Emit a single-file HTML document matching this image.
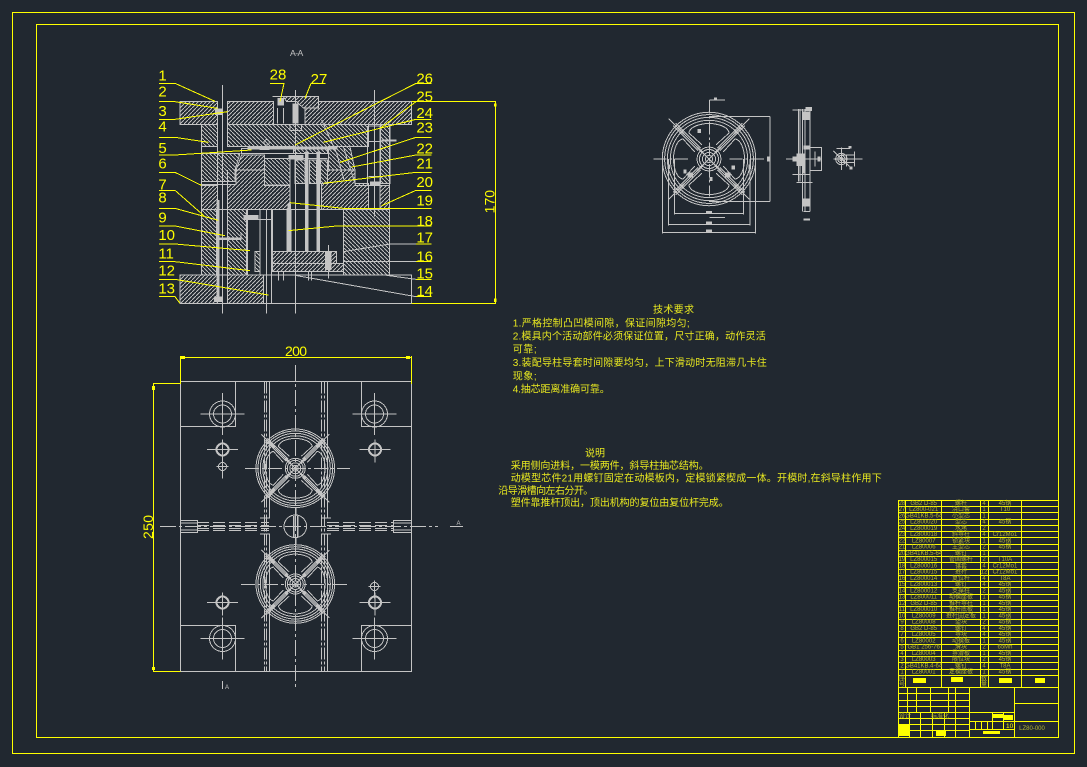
<!DOCTYPE html>
<html><head><meta charset="utf-8"><style>
html,body{margin:0;padding:0;background:#212830}
svg{display:block;shape-rendering:crispEdges}
.w *{vector-effect:non-scaling-stroke}
.cn{font-family:"Liberation Sans","Noto Sans CJK SC",sans-serif}
</style></head><body>
<svg width="1087" height="767" viewBox="0 0 1087 767" xmlns="http://www.w3.org/2000/svg" class="cn">
<defs>
<pattern id="h1" width="12" height="12" patternUnits="userSpaceOnUse"><path d="M-3,15 L15,-3" stroke="#bcbcbc" stroke-width="3" fill="none" shape-rendering="crispEdges"/></pattern>
<pattern id="h2" width="12" height="12" patternUnits="userSpaceOnUse"><path d="M-3,-3 L15,15" stroke="#bcbcbc" stroke-width="3" fill="none" shape-rendering="crispEdges"/></pattern>
<g id="wheel" class="w" fill="none" stroke="#c4c4c4" stroke-width="1">
<circle r="39.3"/><circle r="37.3"/><circle r="35"/><circle r="32.5"/>
<circle r="10"/><circle r="8"/><circle r="5.5"/><circle r="3"/>
<path d="M-34,-34L34,34M-34,34L34,-34"/>
<path d="M-7,-9L-28,-30M-9,-7L-30,-28M7,-9L28,-30M9,-7L30,-28M-7,9L-28,30M-9,7L-30,28M7,9L28,30M9,7L30,28"/>
<path d="M-6,-12L-17,-22Q-15,-29 0,-30Q15,-29 17,-22L6,-12"/>
<path d="M-6,12L-17,22Q-15,29 0,30Q15,29 17,22L6,12"/>
<path d="M-12,-6L-22,-17Q-29,-15 -30,0Q-29,15 -22,17L-12,6"/>
<path d="M12,-6L22,-17Q29,-15 30,0Q29,15 22,17L12,6"/>
<path d="M-21,-21L-26,-26M21,-21L26,-26M-21,21L-26,26M21,21L26,26M-10,-10L-5,-5M10,-10L5,-5M-10,10L-5,5M10,10L5,5" stroke-width="2"/>
</g>
<g id="bolt" fill="none" stroke="#c4c4c4" stroke-width="1"><circle r="13"/><circle r="9"/><path d="M-22,0H22M0,-21V21"/></g>
<g id="pin" fill="none" stroke="#c4c4c4"><circle r="6" stroke-width="2"/><path d="M-15.5,0H15.5M0,-10V13" stroke-width="1"/></g>
<g id="tiny" fill="none" stroke="#c4c4c4" stroke-width="1"><circle r="4"/><path d="M-6,0H6M0,-6V12"/></g>
</defs>
<rect width="1087" height="767" fill="#212830"/>

<!-- frames -->
<g fill="none" stroke="#ffff00" stroke-width="1">
<rect x="12.5" y="12.5" width="1062" height="741"/>
<rect x="36.5" y="24.5" width="1022" height="713"/>
</g>

<!-- section view (zoom coordinates) -->
<g transform="translate(140,40) scale(.33333)">
<g stroke="#c4c4c4" stroke-width="3">
<!-- hatched -->
<g fill="url(#h1)">
<path d="M120,185H232V253H120Z"/><path d="M262,185H400V253H262Z"/><path d="M495,204H535V185H815V253H495Z"/>
<path d="M397,170H535V204H490L470,185H440L430,170Z"/>
<path d="M185,436H232V508H185Z"/>
<path d="M288,390H373V436H450V508H262V433H288Z"/>
<path d="M305,345H373V390H288Z"/>
<path d="M562,390H645V430H685V508H545V430H562Z"/>
<path d="M720,436H748V508H720Z"/>
<path d="M397,635H590V670H397Z"/><path d="M397,670H610V695H397Z"/>
<path d="M120,705H232V790H120Z"/><path d="M262,705H370V790H262Z"/>
</g>
<g fill="url(#h2)">
<path d="M185,253H232V320H185Z"/>
<path d="M185,340H300L285,390V425H185Z"/>
<path d="M262,253H685V320H565V340H460V320H262Z"/>
<path d="M565,320H630L645,390H565Z"/>
<path d="M722,253H750V430H722Z"/>
<path d="M373,355H450V435H373Z"/><path d="M465,360H495V430H465Z"/><path d="M508,360H530V430H508Z"/><path d="M542,360H562V430H542Z"/>
<path d="M185,508H230V705H185Z"/><path d="M262,508H320V705H262Z"/>
<path d="M610,508H748V705H610Z"/>
<path d="M345,635H360V695H345Z"/>
</g>
<!-- outlines -->
<g fill="none">
<path d="M185,253V705M748,253V705M185,433H288M645,436H748M185,508H748"/>
<path d="M120,705H815V790H120V705"/>
<path d="M232,185V790M262,185V320M262,390V790"/>
<path d="M322,508V705M360,508V705M395,508V790M370,705V790M323,538H395"/>
<path d="M397,508V635M610,508V705M590,635V670"/>
<path d="M682,258V430M720,258V500M685,258H720M685,305H720M685,410H720"/>
<path d="M412,204V250M430,204V250M450,253H485V272H450Z"/>
<path d="M305,325H562V340H305Z M373,355H562"/>
<path d="M300,340L285,390M288,390H373M562,390H645M610,320L645,430"/>
<path d="M610,665H748M397,670H610M397,695H610"/>
<path d="M415,695V722M430,695V722M505,695V722M515,695V722"/>
<path d="M235,598H303V578"/>
<path d="M545,240L590,340L612,420"/>
<circle cx="380" cy="307" r="8"/>
</g>
<!-- center lines -->
<path d="M247,135V820M703,150V530M466,150V820M380,510V820M565,615V715" fill="none"/>
</g>
<!-- filled bits -->
<g fill="#c4c4c4">
<rect x="322" y="320" width="270" height="8"/>
<rect x="445" y="345" width="45" height="14"/>
<rect x="458" y="190" width="18" height="60"/>
<rect x="440" y="510" width="15" height="125"/>
<rect x="225" y="205" width="22" height="20"/>
<rect x="229" y="480" width="9" height="290"/>
<rect x="310" y="525" width="45" height="15"/>
<rect x="238" y="592" width="65" height="6"/>
<rect x="495" y="335" width="10" height="300"/>
<rect x="530" y="335" width="10" height="300"/>
<rect x="555" y="635" width="20" height="55"/>
<rect x="222" y="770" width="26" height="16"/>
<rect x="412" y="174" width="20" height="22"/>
<rect x="690" y="425" width="28" height="12"/>
<rect x="725" y="298" width="45" height="7"/>
<rect x="358" y="320" width="30" height="10"/>
<rect x="443" y="490" width="10" height="18"/>
</g>
<!-- leaders yellow -->
<path fill="none" stroke="#ffff00" stroke-width="3" d="
M57,130H105L225,184 M57,185H105L232,205 M57,238H105L262,215 M57,292H105L205,307
M57,345H105L335,330 M57,397H105L184,436 M57,451H105L195,530 M57,505H105L235,541
M57,558H105L255,587 M57,612H105L330,632 M57,665H105L330,692 M57,718H105L385,765
M57,770H105L120,790
M875,130H828L465,315 M875,185H828L720,265 M875,238H828L550,307 M875,292H828L600,367
M875,345H828L635,381 M875,397H828L550,430 M875,451H828L725,497 M875,505H610L450,488
M875,558H590L445,572 M828,612H875 M828,665H875 M828,718H875 M828,770H875
M390,130H432L420,185 M557,130H513L495,175
M815,184H1068 M815,790H1068 M1066,184V790"/>
<path fill="none" stroke="#c4c4c4" stroke-width="3" d="M828,612H750L610,635 M828,665H610 M828,718L740,706 M828,770L465,706"/>
<rect x="1062" y="190" width="8" height="10" fill="#ffff00"/><rect x="1062" y="776" width="8" height="10" fill="#ffff00"/>
<g fill="#ffff00" font-size="45" text-anchor="start">
<text x="55" y="122">1</text><text x="55" y="170">2</text><text x="55" y="228">3</text><text x="55" y="275">4</text><text x="55" y="339">5</text><text x="55" y="385">6</text><text x="55" y="448">7</text><text x="55" y="487">8</text><text x="55" y="548">9</text><text x="55" y="600">10</text><text x="55" y="655">11</text><text x="55" y="707">12</text><text x="55" y="760">13</text>
<text x="829" y="130">26</text><text x="829" y="184">25</text><text x="829" y="234">24</text><text x="829" y="277">23</text><text x="829" y="340">22</text><text x="829" y="385">21</text><text x="829" y="441">20</text><text x="829" y="497">19</text><text x="829" y="558">18</text><text x="829" y="608">17</text><text x="829" y="665">16</text><text x="829" y="715">15</text><text x="829" y="768">14</text>
<text x="389" y="118">28</text><text x="512" y="132">27</text>
<text transform="translate(1064,520) rotate(-90)" font-size="42">170</text>
</g>
<text x="450" y="48" font-size="26" fill="#c4c4c4" textLength="40">A-A</text>
</g>

<!-- plan view -->
<g fill="none" stroke="#c4c4c4" stroke-width="1">
<rect x="180.5" y="381.5" width="231" height="290"/>
<path d="M235.5,381.5V426.5H180.5M361.5,381.5V426.5H411.5M180.5,625.5H235.5V671.5M411.5,625.5H361.5V671.5"/>
<path d="M269.5,381.5V518M269.5,534V671.5M327.5,381.5V518M327.5,534V671.5"/>
<path d="M264.5,381.5V671.5M266.5,381.5V671.5M321.5,381.5V671.5M324.5,381.5V671.5" stroke-dasharray="12,2,3,2"/>
<path d="M295.5,365V688M160,526.5H438" stroke-dasharray="16,3,3,3"/>
<path d="M180.5,520.5H197.5V532.5H180.5M411.5,520.5H393.5V532.5H411.5"/>
<path d="M197,522.5H269M197,525.5H269M197,528.5H269M197,530.5H269M327,522.5H393M327,525.5H393M327,528.5H393M327,530.5H393" stroke-dasharray="12,4"/>
<path d="M180,523H197M180,530H197M394,523H411M394,530H411"/>
<path d="M260,518H270M260,534H270M322,518H331M322,534H331"/>
<path d="M245,468.5H350M241,584.5H349" stroke-dasharray="14,3,3,3"/>
<path d="M450,526.5H463M222.5,681V689"/>
</g>
<g>
<use href="#bolt" x="222.5" y="414"/><use href="#bolt" x="374.5" y="414"/><use href="#bolt" x="222.5" y="638.5"/><use href="#bolt" x="374.5" y="638.5"/>
<use href="#pin" x="222.5" y="449.5"/><use href="#pin" x="375" y="449.5"/><use href="#pin" x="222.5" y="602.5"/><use href="#pin" x="375" y="602.5"/>
<use href="#tiny" x="222.5" y="466.5"/><use href="#tiny" x="374.5" y="586.5"/>
<use href="#wheel" x="295.3" y="468.3"/><use href="#wheel" x="295.3" y="584"/>
</g>
<g fill="none" stroke="#c4c4c4">
<circle cx="295.3" cy="526.3" r="11.3"/>
<path d="M293.5,516V537M297.5,516V537M295.5,508V516M295.5,537V545" stroke-width="1.5"/>
</g>
<!-- dims 200 / 250 -->
<g fill="none" stroke="#ffff00" stroke-width="1">
<path d="M180.5,356V384M411.5,356V384M180.5,357.5H411.5"/>
<path d="M153.5,383V671M153,383.5H180.5M153,671.5H180.5"/>
</g>
<g fill="#ffff00">
<rect x="181" y="356" width="4" height="3"/><rect x="406" y="356" width="4" height="3"/><rect x="152" y="386" width="3" height="4"/><rect x="152" y="667" width="3" height="3"/>
<text x="285" y="356" font-size="14" textLength="22">200</text>
<text transform="translate(153,539) rotate(-90)" font-size="14" textLength="24">250</text>
</g>
<g fill="#c4c4c4" font-size="6"><text x="456.5" y="525">A</text><text x="225" y="689">A</text></g>

<!-- part view -->
<use href="#wheel" transform="translate(709,159) scale(1.19)"/>
<g transform="translate(640,85) scale(.33333)" fill="none" stroke="#c4c4c4" stroke-width="3">
<path d="M40,222H145M268,222H375M208,45V335" stroke-dasharray="40,8,8,8"/>
<path d="M208,45H255M207,95H390M207,349H390M390,95V349M208,397H255"/>
<path d="M103,222V388M310,222V388M103,385H310M85,222V422M330,222V422M85,419H330M67,222V445M347,222V445M67,442H347"/>
<path d="M475,72V290M480,72V290M487,72V380M495,72V380M510,72V380M457,75H515M457,268H510M470,292H518M490,380H510"/>
<path d="M438,222H545M510,187H545V257H510M525,200V245"/>
<circle cx="604" cy="222" r="17"/><circle cx="604" cy="222" r="11"/><circle cx="604" cy="222" r="5"/>
<path d="M580,222H668M605,188V255M620,212V245M643,200V245M590,190H630M580,198L635,250M605,210H645M605,232H645"/>
<g fill="#c4c4c4" stroke="none">
<rect x="487" y="80" width="23" height="25"/><rect x="487" y="340" width="23" height="25"/><rect x="470" y="205" width="25" height="38"/><rect x="497" y="66" width="19" height="12"/>
<rect x="487" y="240" width="8" height="25"/><rect x="490" y="182" width="20" height="12"/><rect x="458" y="215" width="12" height="15"/><rect x="533" y="215" width="8" height="15"/>
<rect x="490" y="400" width="20" height="7"/><rect x="198" y="378" width="18" height="8"/><rect x="198" y="434" width="18" height="8"/><rect x="198" y="410" width="18" height="8"/><rect x="381" y="214" width="7" height="16"/><rect x="222" y="37" width="9" height="9"/>
<rect x="82" y="238" width="8" height="14"/><rect x="325" y="238" width="8" height="14"/><rect x="143" y="262" width="16" height="16"/><rect x="255" y="262" width="16" height="16"/>
<rect x="173" y="132" width="10" height="12"/><rect x="275" y="242" width="10" height="12"/><rect x="130" y="254" width="10" height="12"/><rect x="208" y="276" width="10" height="12"/>
<rect x="625" y="183" width="10" height="8"/><rect x="628" y="245" width="9" height="9"/>
</g>
</g>

<!-- notes -->
<g fill="#e8e820" font-size="10">
<text x="653" y="313" textLength="41">技术要求</text>
<text x="512.7" y="326.5" textLength="177">1.严格控制凸凹模间隙，保证间隙均匀;</text>
<text x="512.7" y="339.5" textLength="253">2.模具内个活动部件必须保证位置，尺寸正确，动作灵活</text>
<text x="512.7" y="352.5" textLength="24">可靠;</text>
<text x="512.7" y="366" textLength="254">3.装配导柱导套时间隙要均匀，上下滑动时无阻滞几卡住</text>
<text x="512.7" y="379.5" textLength="24">现象;</text>
<text x="512.7" y="392.5" textLength="97">4.抽芯距离准确可靠。</text>
<text x="585" y="456.5" textLength="20">说明</text>
<text x="510.7" y="469" textLength="198">采用侧向进料，一模两件，斜导柱抽芯结构。</text>
<text x="510.7" y="481.5" textLength="371">动模型芯件21用螺钉固定在动模板内，定模锁紧楔成一体。开模时,在斜导柱作用下</text>
<text x="498.3" y="494" textLength="95">沿导滑槽向左右分开。</text>
<text x="510.7" y="506" textLength="218">塑件靠推杆顶出，顶出机构的复位由复位杆完成。</text>
</g>

<!-- parts table -->
<g fill="none" stroke="#ffff00" stroke-width="1">
<path d="M898.5,500.5H1058 M898.5,506.5H1058 M898.5,512.5H1058 M898.5,519.5H1058 M898.5,525.5H1058 M898.5,531.5H1058 M898.5,537.5H1058 M898.5,544.5H1058 M898.5,550.5H1058 M898.5,556.5H1058 M898.5,562.5H1058 M898.5,569.5H1058 M898.5,575.5H1058 M898.5,581.5H1058 M898.5,587.5H1058 M898.5,594.5H1058 M898.5,600.5H1058 M898.5,606.5H1058 M898.5,612.5H1058 M898.5,619.5H1058 M898.5,625.5H1058 M898.5,631.5H1058 M898.5,637.5H1058 M898.5,644.5H1058 M898.5,650.5H1058 M898.5,656.5H1058 M898.5,662.5H1058 M898.5,669.5H1058 M898.5,675.5H1058 M898.5,687.5H1058"/>
<path d="M898.5,500V737.5M905.5,500V687M941.5,500V687M980.5,500V687M988.5,500V687M1021.5,500V687M1058.5,500V737.5"/>
<path d="M907.5,687V712M916.5,687V712M930.5,687V712M948.5,687V712M955.5,687V712M969.5,687V737"/>
<path d="M898.5,693.5H969M898.5,700.5H969M898.5,706.5H969M898.5,712.5H969M898.5,718.5H969M898.5,724.5H969M898.5,730.5H969"/>
<path d="M909.5,712V737M920.5,712V737M932.5,712V737M944.5,712V737M955.5,712V737"/>
<path d="M1014.5,687V737M969,712.5H1014M1014,703.5H1058M969,721.5H1058M969,729.5H1014"/>
<path d="M975.5,721V729M981.5,721V729M987.5,721V729M992.5,721V729M992.5,712V729M1003.5,712V729"/>
</g>
<g fill="#b4b430" font-size="6" text-anchor="middle">
<text y="505"><tspan x="902">28</tspan><tspan x="923.7">GB2 D-85</tspan><tspan x="961">螺杆</tspan><tspan x="984">4</tspan><tspan x="1005">45钢</tspan></text>
<text y="511.2"><tspan x="902">27</tspan><tspan x="923.7">LZ800-021</tspan><tspan x="961">浇口套</tspan><tspan x="984">1</tspan><tspan x="1005">T10</tspan></text>
<text y="517.5"><tspan x="902">26</tspan><tspan x="923.7">GB41KB.5-64</tspan><tspan x="961">小型芯</tspan><tspan x="984">1</tspan></text>
<text y="523.7"><tspan x="902">25</tspan><tspan x="923.7">LZ800020</tspan><tspan x="961">型芯</tspan><tspan x="984">4</tspan><tspan x="1005">45钢</tspan></text>
<text y="530"><tspan x="902">24</tspan><tspan x="923.7">LZ800019</tspan><tspan x="961">水堵</tspan><tspan x="984">2</tspan></text>
<text y="536.2"><tspan x="902">23</tspan><tspan x="923.7">LZ800018</tspan><tspan x="961">斜导柱</tspan><tspan x="984">4</tspan><tspan x="1005">Cr12Mo1</tspan></text>
<text y="542.5"><tspan x="902">22</tspan><tspan x="923.7">LZ80007</tspan><tspan x="961">锁紧块</tspan><tspan x="984">1</tspan><tspan x="1005">45钢</tspan></text>
<text y="548.7"><tspan x="902">21</tspan><tspan x="923.7">LZ80006</tspan><tspan x="961">主型芯</tspan><tspan x="984">2</tspan><tspan x="1005">45钢</tspan></text>
<text y="555"><tspan x="902">20</tspan><tspan x="923.7">GB41KB.5-64</tspan><tspan x="961">螺钉</tspan><tspan x="984">1</tspan></text>
<text y="561.2"><tspan x="902">19</tspan><tspan x="923.7">LZ800015</tspan><tspan x="961">管固螺杆</tspan><tspan x="984">2</tspan><tspan x="1005">T10A</tspan></text>
<text y="567.5"><tspan x="902">18</tspan><tspan x="923.7">LZ800016</tspan><tspan x="961">镶套</tspan><tspan x="984">4</tspan><tspan x="1005">Cr12Mo1</tspan></text>
<text y="573.7"><tspan x="902">17</tspan><tspan x="923.7">LZ800015</tspan><tspan x="961">推杆</tspan><tspan x="984">12</tspan><tspan x="1005">Cr12Mo1</tspan></text>
<text y="580"><tspan x="902">16</tspan><tspan x="923.7">LZ800014</tspan><tspan x="961">复位杆</tspan><tspan x="984">4</tspan><tspan x="1005">T8A</tspan></text>
<text y="586.2"><tspan x="902">15</tspan><tspan x="923.7">LZ800013</tspan><tspan x="961">螺钉</tspan><tspan x="984">4</tspan><tspan x="1005">45钢</tspan></text>
<text y="592.5"><tspan x="902">14</tspan><tspan x="923.7">LZ800012</tspan><tspan x="961">支撑柱</tspan><tspan x="984">2</tspan><tspan x="1005">45钢</tspan></text>
<text y="598.7"><tspan x="902">13</tspan><tspan x="923.7">LZ800011</tspan><tspan x="961">动模座板</tspan><tspan x="984">1</tspan><tspan x="1005">45钢</tspan></text>
<text y="605"><tspan x="902">12</tspan><tspan x="923.7">GB2 D-85</tspan><tspan x="961">推杆导柱</tspan><tspan x="984">1</tspan><tspan x="1005">45钢</tspan></text>
<text y="611.2"><tspan x="902">11</tspan><tspan x="923.7">LZ800010</tspan><tspan x="961">推杆底板</tspan><tspan x="984">1</tspan><tspan x="1005">45钢</tspan></text>
<text y="617.5"><tspan x="902">10</tspan><tspan x="923.7">LZ80009</tspan><tspan x="961">推杆固定板</tspan><tspan x="984">1</tspan><tspan x="1005">45钢</tspan></text>
<text y="623.7"><tspan x="902">9</tspan><tspan x="923.7">LZ80008</tspan><tspan x="961">垫块</tspan><tspan x="984">2</tspan><tspan x="1005">45钢</tspan></text>
<text y="630"><tspan x="902">8</tspan><tspan x="923.7">GB2 D-85</tspan><tspan x="961">螺钉</tspan><tspan x="984">4</tspan><tspan x="1005">45钢</tspan></text>
<text y="636.2"><tspan x="902">7</tspan><tspan x="923.7">LZ80005</tspan><tspan x="961">导块</tspan><tspan x="984">4</tspan><tspan x="1005">45钢</tspan></text>
<text y="642.5"><tspan x="902">6</tspan><tspan x="923.7">LZ80002</tspan><tspan x="961">动模板</tspan><tspan x="984">1</tspan><tspan x="1005">45钢</tspan></text>
<text y="648.7"><tspan x="902">5</tspan><tspan x="923.7">GB1 256-76</tspan><tspan x="961">滑块</tspan><tspan x="984">2</tspan><tspan x="1005">65Mn</tspan></text>
<text y="655"><tspan x="902">4</tspan><tspan x="923.7">LZ80004</tspan><tspan x="961">导滑板</tspan><tspan x="984">1</tspan><tspan x="1005">45钢</tspan></text>
<text y="661.2"><tspan x="902">3</tspan><tspan x="923.7">LZ80003</tspan><tspan x="961">限位块</tspan><tspan x="984">2</tspan><tspan x="1005">45钢</tspan></text>
<text y="667.5"><tspan x="902">2</tspan><tspan x="923.7">GB41KB.4-64</tspan><tspan x="961">螺钉</tspan><tspan x="984">4</tspan><tspan x="1005">T8A</tspan></text>
<text y="673.7"><tspan x="902">1</tspan><tspan x="923.7">LZ80001</tspan><tspan x="961">定模座板</tspan><tspan x="984">1</tspan><tspan x="1005">45钢</tspan></text>
<text x="902" y="680.5">序</text><text x="902" y="686">号</text><text x="984" y="680.5">数</text><text x="984" y="686">量</text>
<text x="905" y="718">设计</text><text x="940" y="718">标准化</text>
<text x="1032" y="730">LZ80-000</text>
</g>
<g fill="#ffff00">
<rect x="913" y="678" width="13" height="5"/><rect x="951" y="677" width="12" height="5"/><rect x="999" y="678" width="13" height="5"/><rect x="1035" y="678" width="10" height="5"/>
<rect x="993" y="714" width="10" height="4"/><rect x="1004" y="715" width="9" height="5"/>
<rect x="899" y="724" width="10" height="6"/><rect x="899" y="731" width="10" height="5"/><rect x="936" y="731" width="10" height="5"/><rect x="983" y="731" width="17" height="3"/>
<text x="1006" y="728" font-size="6.5">10</text>
</g>
</svg>
</body></html>
